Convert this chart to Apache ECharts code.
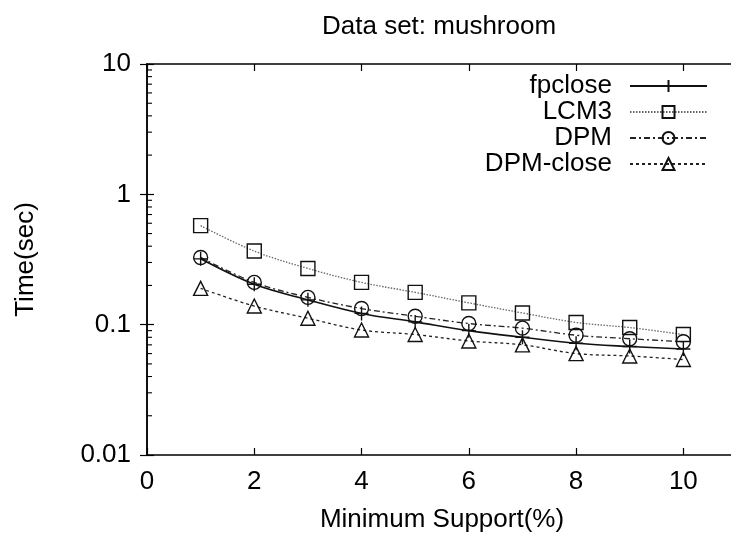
<!DOCTYPE html>
<html>
<head>
<meta charset="utf-8">
<script src="https://cdn.jsdelivr.net/npm/echarts@6/dist/echarts.min.js"></script>
<style>html,body{margin:0;padding:0;background:#fff}#c{width:731px;height:536px}</style>
</head>
<body>
<div id="c"></div>
<script>
const xValues = [1, 2, 3, 4, 5, 6, 7, 8, 9, 10];
const fpclose = [0.320, 0.204, 0.155, 0.122, 0.105, 0.090, 0.080, 0.072, 0.068, 0.065];
const lcm3 = [0.575, 0.367, 0.270, 0.211, 0.177, 0.147, 0.123, 0.104, 0.095, 0.084];
const dpm = [0.328, 0.211, 0.162, 0.133, 0.116, 0.102, 0.094, 0.083, 0.078, 0.074];
const dpmClose = [0.190, 0.139, 0.112, 0.091, 0.084, 0.075, 0.070, 0.060, 0.0575, 0.054];
const seriesNames = ['fpclose', 'LCM3', 'DPM', 'DPM-close'];
const minorTickValues = [0.02,0.03,0.04,0.05,0.06,0.07,0.08,0.09,0.2,0.3,0.4,0.5,0.6,0.7,0.8,0.9,2,3,4,5,6,7,8,9];

const FONT = '"Liberation Sans", Arial, sans-serif';
const FS = 26;
const pair = arr => xValues.map((x, i) => [x, arr[i]]);

const chart = echarts.init(document.getElementById('c'), null, {renderer: 'canvas'});
const sym = {color: 'rgba(0,0,0,0)', borderColor: '#111', borderWidth: 1.4};
chart.setOption({
  animation: false,
  backgroundColor: '#fff',
  textStyle: {fontFamily: FONT},
  title: {
    text: 'Data set: mushroom', left: 317, top: 9,
    textStyle: {fontFamily: FONT, fontSize: FS, fontWeight: 'normal', color: '#000'}
  },
  grid: {left: 147, width: 590, top: 64, bottom: 81, containLabel: false, outerBoundsMode: 'none'},
  legend: {
    data: seriesNames, orient: 'vertical', align: 'right', right: 18, top: 68,
    itemWidth: 77, itemHeight: 15, itemGap: 0,
    textStyle: {fontFamily: FONT, fontSize: FS, color: '#000', padding: [0, 13, 0, 0]}
  },
  xAxis: [{
    type: 'value', min: 0, max: 11, interval: 2,
    name: 'Minimum Support(%)', nameLocation: 'middle', nameGap: 52,
    nameTextStyle: {fontFamily: FONT, fontSize: FS, color: '#000'},
    axisLine: {lineStyle: {color: '#000', width: 1.5}},
    axisTick: {inside: true, length: 7, lineStyle: {color: '#000', width: 1.2}},
    axisLabel: {fontFamily: FONT, fontSize: FS, color: '#000', margin: 14, showMaxLabel: false},
    splitLine: {show: false}
  }, {
    type: 'value', position: 'top', min: 0, max: 11, interval: 2,
    axisLine: {show: true, lineStyle: {color: '#000', width: 1.5}},
    axisTick: {inside: true, length: 7, lineStyle: {color: '#000', width: 1.2}},
    axisLabel: {show: false}, splitLine: {show: false}
  }],
  yAxis: [{
    type: 'log', logBase: 10, min: 0.01, max: 10,
    name: 'Time(sec)', nameLocation: 'middle', nameGap: 108, nameRotate: 90,
    nameTextStyle: {fontFamily: FONT, fontSize: FS, color: '#000'},
    axisLine: {show: true, lineStyle: {color: '#000', width: 1.5}},
    axisTick: {inside: true, length: 7, lineStyle: {color: '#000', width: 1.2}},
    axisLabel: {fontFamily: FONT, fontSize: FS, color: '#000', margin: 16},
    splitLine: {show: false}
  }, {
    type: 'log', logBase: 10, min: 0.01, max: 10, position: 'right',
    axisLine: {show: true, lineStyle: {color: '#000', width: 1.5}},
    axisTick: {inside: true, length: 7, lineStyle: {color: '#000', width: 1.2}},
    axisLabel: {show: false}, splitLine: {show: false}
  }],
  series: [
    {
      name: 'fpclose', type: 'line', data: pair(fpclose), smooth: 0.35,
      symbol: 'path://M0,5L10,5M5,0L5,10', symbolSize: 14,
      lineStyle: {color: '#111', width: 1.6, type: 'solid'},
      itemStyle: sym, color: '#111', z: 5
    },
    {
      name: 'LCM3', type: 'line', data: pair(lcm3), smooth: 0.35,
      symbol: 'rect', symbolSize: 14,
      lineStyle: {color: '#666', width: 1.3, type: [1.5, 1.5]},
      itemStyle: sym, color: '#111', z: 4
    },
    {
      name: 'DPM', type: 'line', data: pair(dpm), smooth: 0.35,
      symbol: 'circle', symbolSize: 14,
      lineStyle: {color: '#222', width: 1.3, type: [6, 3, 2, 3]},
      itemStyle: sym, color: '#111', z: 4
    },
    {
      name: 'DPM-close', type: 'line', data: pair(dpmClose), smooth: 0.35,
      symbol: 'triangle', symbolSize: 14,
      lineStyle: {color: '#222', width: 1.3, type: [3, 3]},
      itemStyle: sym, color: '#111', z: 4
    },
    {
      name: 'minorTicks', type: 'custom', silent: true,
      data: minorTickValues.map(v => [0, v]),
      renderItem: function (params, api) {
        const p = api.coord([api.value(0), api.value(1)]);
        return {
          type: 'line',
          shape: {x1: p[0], y1: p[1], x2: p[0] + 5, y2: p[1]},
          style: {stroke: '#000', lineWidth: 1.1}
        };
      }
    }
  ]
});
</script>
</body>
</html>
